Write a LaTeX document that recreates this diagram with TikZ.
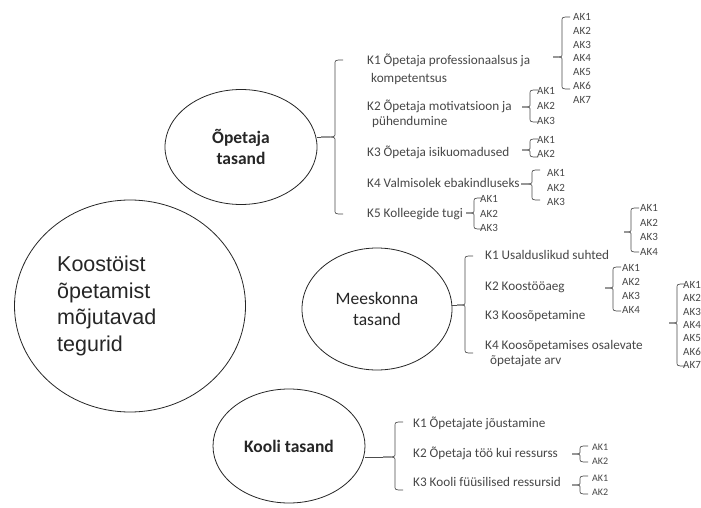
\documentclass[tikz,border=0pt]{standalone}
\usepackage{fontspec}
\setmainfont{Carlito}
\newfontfamily\arialf{Liberation Sans}
\usetikzlibrary{shapes.geometric}
\tikzset{
  circ/.style={ellipse, draw=black!85, line width=0.8pt, inner sep=0pt},
  lvl/.style={font=\fontsize{17.5}{21}\selectfont, text=black!85, align=center},
  kt/.style={anchor=base west, inner sep=0pt, font=\fontsize{13.2}{15}\selectfont, text=black!72},
  ak/.style={anchor=base west, inner sep=0pt, font=\fontsize{11}{13}\selectfont, text=black!72},
  aks/.style={ak, font=\fontsize{10}{12}\selectfont},
  brc/.style={draw=black!70, line width=0.7pt},
  conn/.style={draw=black!70, line width=0.7pt},
}
% x, ytop, ybot, ytip, xtip
\newcommand\bracedraw[5]{%
  \draw[brc] ({#1+8},#2) .. controls (#1,#2) .. (#1,{#2+4}) -- (#1,{#4-3}) .. controls (#1,#4) .. (#5,#4);
  \draw[brc] (#5,#4) .. controls (#1,#4) .. (#1,{#4+3}) -- (#1,{#3-4}) .. controls (#1,#3) .. ({#1+8},#3);
}
\begin{document}
\begin{tikzpicture}[x=1pt,y=-1pt]
\useasboundingbox (0,0) rectangle (701,508);
\clip (0,0) rectangle (701,508);
\fill[white] (0,0) rectangle (701,508);

% main circle
\node[circ, minimum width=231pt, minimum height=212pt] (main) at (130,306) {};
\node[anchor=west, inner sep=0pt, align=left, font=\arialf\fontsize{21.5}{26.7}\selectfont, text=black!85] (maintxt) at (57,306)
  {Koostöist\\õpetamist\\mõjutavad\\tegurid};

% level circles
\node[circ, minimum width=152pt, minimum height=115pt, lvl, font=\bfseries\fontsize{17.5}{21}\selectfont] (opc) at (241,147) {Õpetaja\\tasand};
\node[circ, minimum width=150pt, minimum height=122pt, lvl] (mec) at (377,309) {Meeskonna\\tasand};
\node[circ, minimum width=152pt, minimum height=114pt, lvl, font=\bfseries\fontsize{17.5}{21}\selectfont] (koc) at (289,446) {Kooli tasand};

% ---------- Õpetaja tasand ----------
\coordinate (tipO) at (321,137);
\draw[conn] (opc.east |- tipO) -- (tipO);
\bracedraw{335}{60}{214}{137}{321}

\node[kt] (o1) at (367,65) {K1 Õpetaja professionaalsus ja};
\node[kt] (o1b) at (371,83) {kompetentsus};
\node[kt] (o2) at (367,111) {K2 Õpetaja motivatsioon ja};
\node[kt] (o2b) at (372,126) {pühendumine};
\node[kt] (o3) at (367,157) {K3 Õpetaja isikuomadused};
\node[kt] (o4) at (367,187) {K4 Valmisolek ebakindluseks};
\node[kt] (o5) at (367,217) {K5 Kolleegide tugi};

\bracedraw{562}{17}{89}{57}{553}
\foreach \i in {1,...,7} \node[ak] (oa1-\i) at (573,{20.5+13.8*(\i-1)}) {AK\i};

\bracedraw{530}{90}{122}{107}{522}
\foreach \i in {1,...,3} \node[ak] (oa2-\i) at (537,{94.5+15*(\i-1)}) {AK\i};

\bracedraw{530}{139}{157}{150}{522}
\foreach \i in {1,...,2} \node[ak] (oa3-\i) at (537,{143.5+14*(\i-1)}) {AK\i};

\bracedraw{532}{170}{200}{184}{521}
\foreach \i in {1,...,3} \node[ak] (oa4-\i) at (547,{176.5+14.5*(\i-1)}) {AK\i};

\bracedraw{474}{198}{229}{213}{466}
\foreach \i in {1,...,3} \node[ak] (oa5-\i) at (480,{202.5+14.5*(\i-1)}) {AK\i};

% ---------- Meeskonna tasand ----------
\coordinate (tipM) at (457,305);
\draw[conn] (mec.east |- tipM) -- (tipM);
\bracedraw{465}{256}{353}{305}{457}

\node[kt] (m1) at (485,259) {K1 Usalduslikud suhted};
\node[kt] (m2) at (485,290) {K2 Koostööaeg};
\node[kt] (m3) at (485,319) {K3 Koosõpetamine};
\node[kt] (m4) at (485,349) {K4 Koosõpetamises osalevate};
\node[kt] (m4b) at (490,364) {õpetajate arv};

\bracedraw{631}{208}{252}{232}{624}
\foreach \i in {1,...,4} \node[ak] (ma1-\i) at (640,{211.5+14.7*(\i-1)}) {AK\i};

\bracedraw{613}{267}{311}{288}{605}
\foreach \i in {1,...,4} \node[ak] (ma2-\i) at (622,{271.5+14*(\i-1)}) {AK\i};

\bracedraw{677}{284}{366}{323}{669}
\foreach \i in {1,...,7} \node[ak] (ma4-\i) at (683,{288.5+13.33*(\i-1)}) {AK\i};

% ---------- Kooli tasand ----------
\coordinate (tipK) at (383,457);
\draw[conn] (koc.east |- tipK) -- (tipK);
\bracedraw{395}{422}{490}{457}{383}

\node[kt] (k1) at (413,427) {K1 Õpetajate jõustamine};
\node[kt] (k2) at (413,457) {K2 Õpetaja töö kui ressurss};
\node[kt] (k3) at (413,486) {K3 Kooli füüsilised ressursid};

\bracedraw{580}{446}{462}{454}{572}
\foreach \i in {1,...,2} \node[aks] (ka2-\i) at (592,{450.5+14*(\i-1)}) {AK\i};

\bracedraw{580}{476}{494}{485}{572}
\foreach \i in {1,...,2} \node[aks] (ka3-\i) at (592,{481.5+14*(\i-1)}) {AK\i};
\end{tikzpicture}
\end{document}
